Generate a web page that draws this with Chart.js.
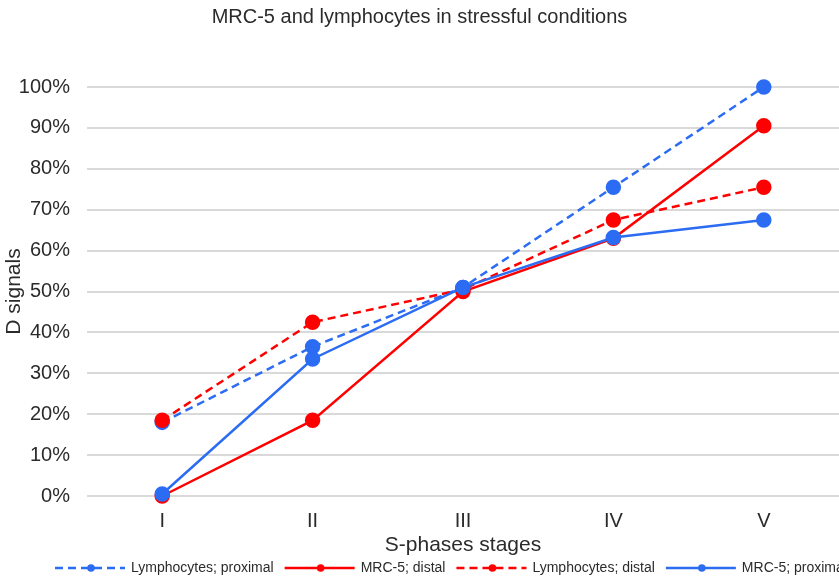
<!DOCTYPE html>
<html lang="en">
<head>
    <meta charset="UTF-8">
    <title>MRC-5 and lymphocytes</title>
    <style>
        html, body { margin: 0; padding: 0; background: #fff; overflow: hidden; }
        #wrap { width: 839px; height: 578px; }
        canvas { display: block; }
    </style>
</head>
<body>
    <div id="wrap"><canvas id="stages"></canvas></div>
    <script src="https://cdn.jsdelivr.net/npm/chart.js@4.4.0/dist/chart.umd.min.js"></script>
    <script>
        var stages = ['I', 'II', 'III', 'IV', 'V'];

        var lymphProximal = [18, 36.5, 51, 75.5, 100];
        var mrcDistal = [0, 18.5, 50, 63, 90.5];
        var lymphDistal = [18.5, 42.5, 50.5, 67.5, 75.5];
        var mrcProximal = [0.5, 33.5, 51, 63.2, 67.5];

        var BLUE = '#2b6cf3';
        var RED = '#ff0000';
        var FONT = "'Liberation Sans', Arial, sans-serif";
        var TEXT = '#2b2b2b';

        function serie(label, values, color, dashed, order) {
            return {
                label: label,
                data: values,
                borderColor: color,
                backgroundColor: color,
                pointBackgroundColor: color,
                pointBorderColor: color,
                borderWidth: 2.5,
                borderDash: dashed ? [8, 5] : [],
                pointRadius: 6.5,
                pointHoverRadius: 6.5,
                tension: 0,
                fill: false,
                clip: false,
                order: order
            };
        }

        // legend drawn along the bottom edge, one line sample per dataset
        var bottomLegend = {
            id: 'bottomLegend',
            afterDraw: function (chart) {
                var ctx = chart.ctx;
                var y = 568;
                var x = 55;
                ctx.save();
                ctx.font = '14px ' + FONT;
                ctx.textBaseline = 'middle';
                chart.data.datasets.forEach(function (ds) {
                    ctx.strokeStyle = ds.borderColor;
                    ctx.fillStyle = ds.borderColor;
                    ctx.lineWidth = 2.5;
                    ctx.setLineDash(ds.borderDash);
                    ctx.beginPath();
                    ctx.moveTo(x, y);
                    ctx.lineTo(x + 70, y);
                    ctx.stroke();
                    ctx.setLineDash([]);
                    ctx.beginPath();
                    ctx.arc(x + 36, y, 3.8, 0, Math.PI * 2);
                    ctx.fill();
                    ctx.fillStyle = TEXT;
                    ctx.fillText(ds.label, x + 76, y);
                    x += 76 + ctx.measureText(ds.label).width + 11;
                });
                ctx.restore();
            }
        };

        var data = {
            labels: stages,
            datasets: [
                serie('Lymphocytes; proximal', lymphProximal, BLUE, true, 4),
                serie('MRC-5; distal', mrcDistal, RED, false, 3),
                serie('Lymphocytes; distal', lymphDistal, RED, true, 2),
                serie('MRC-5; proximal', mrcProximal, BLUE, false, 1)
            ]
        };

        var options = {
            responsive: true,
            maintainAspectRatio: false,
            animation: false,
            layout: {
                autoPadding: false,
                padding: { left: 0, right: 0, top: 0, bottom: 20 }
            },
            scales: {
                x: {
                    offset: true,
                    grid: { display: false, drawTicks: false },
                    border: { display: false },
                    ticks: {
                        color: TEXT,
                        padding: 13,
                        font: { family: FONT, size: 20 }
                    },
                    title: {
                        display: true,
                        text: 'S-phases stages',
                        color: TEXT,
                        padding: 0,
                        font: { family: FONT, size: 21 }
                    },
                    afterFit: function (scale) {
                        scale.height = 62;
                        scale.paddingLeft = 0;
                        scale.paddingRight = 0;
                    }
                },
                y: {
                    min: 0,
                    max: 100,
                    grid: { color: '#d9d9d9', lineWidth: 2, drawTicks: false },
                    border: { display: false },
                    ticks: {
                        stepSize: 10,
                        color: TEXT,
                        padding: 17,
                        font: { family: FONT, size: 20 },
                        callback: function (value) { return value + '%'; }
                    },
                    title: {
                        display: true,
                        text: 'D signals',
                        color: TEXT,
                        padding: { top: 2, bottom: 0 },
                        font: { family: FONT, size: 21 }
                    },
                    afterFit: function (scale) { scale.width = 87; }
                }
            },
            plugins: {
                legend: { display: false },
                tooltip: { enabled: false },
                title: {
                    display: true,
                    text: 'MRC-5 and lymphocytes in stressful conditions',
                    color: TEXT,
                    font: { family: FONT, size: 20, weight: 'normal' },
                    padding: { top: 5, bottom: 58 }
                }
            }
        };

        new Chart(document.getElementById('stages').getContext('2d'), {
            type: 'line',
            data: data,
            options: options,
            plugins: [bottomLegend]
        });
    </script>
</body>
</html>
